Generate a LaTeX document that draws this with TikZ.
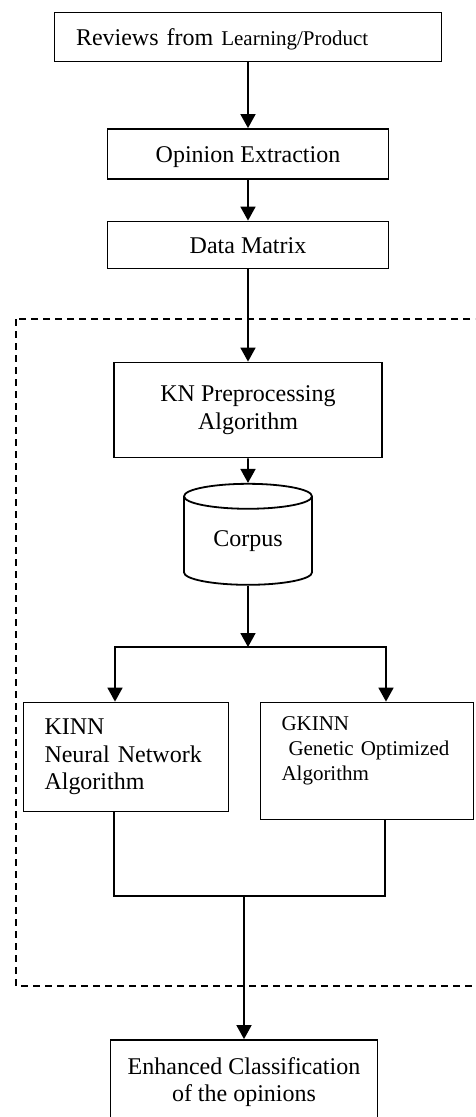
\documentclass[tikz,border=0pt]{standalone}
\usepackage{fontspec}
\setmainfont{Liberation Serif}
\usetikzlibrary{arrows.meta,shapes.geometric}

\begin{document}
\begin{tikzpicture}[x=1pt,y=-1pt,line width=1.8pt,>={Triangle[length=14pt,width=15pt]}]
      \tikzstyle{every node}=[draw,shape=rectangle,inner sep=0pt,font=\fontsize{24}{27.6}\selectfont]
      \tikzstyle{onebox}=[text height=20pt,text depth=4pt]
      \tikzstyle{smalltext}=[font=\fontsize{21}{24.7}\selectfont]
      \useasboundingbox (0,0) rectangle (475,1117);
      \clip (0,0) rectangle (475,1117);

      % dashed frame round the KN part
      \draw[line width=1.5pt,dash pattern=on 7pt off 5pt] (16,319) rectangle (500,986);

      \node[onebox,minimum width=387pt,minimum height=49pt,text width=344pt,align=left] (rev) at (248,37) {Reviews from {\fontsize{21}{24}\selectfont Learning/Product}};
      \node[onebox,minimum width=281pt,minimum height=50pt] (op) at (248,154) {Opinion Extraction};
      \node[onebox,minimum width=281pt,minimum height=47pt] (dm) at (248,245) {Data Matrix};

      \node[minimum width=268pt,minimum height=95pt,align=center] (kn) at (248,410) {KN Preprocessing\\Algorithm};
      \node[shape=cylinder,shape border rotate=90,aspect=0.36,minimum width=128pt,minimum height=101pt] (corpus) at (248,541) {Corpus};

      \node[minimum width=205pt,minimum height=109pt,text width=163pt,align=left] (kinn) at (126,757) {KINN\\Neural Network\\Algorithm};
      \node[smalltext,minimum width=213pt,minimum height=117pt,text width=171pt,align=left] (gkinn) at (367,761) {GKINN\\\ Genetic Optimized\\Algorithm\\\mbox{}};

      \node[minimum width=267pt,minimum height=84pt,align=center] (enh) at (244,1082) {Enhanced Classification\\of the opinions};

      \coordinate (split) at (248,647);
      \coordinate (sl) at (115,647);
      \coordinate (sr) at (386,647);
      \coordinate (ml) at (114,896);
      \coordinate (mr) at (385,896);
      \coordinate (merge) at (244,896);

      \draw[->] (rev) -- (op);
      \draw[->] (op) -- (dm);
      \draw[->] (dm) -- (kn);
      \draw[->] (kn) -- (corpus);
      \draw[->] (corpus) -- (split);
      \draw[<->] (sl |- kinn.north) -- (sl) -- (sr) -- (sr |- gkinn.north);

      \draw (ml |- kinn.south) -- (ml) -- (mr) -- (mr |- gkinn.south);
      \draw[->] (merge) -- (enh);

    \end{tikzpicture}
\end{document}
